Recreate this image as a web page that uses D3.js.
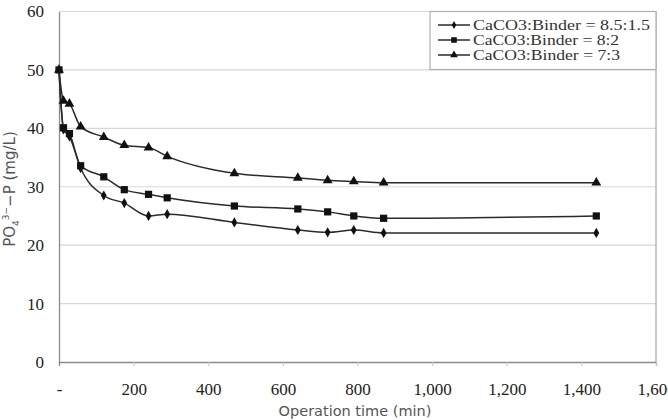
<!DOCTYPE html>
<html>
<head>
<meta charset="utf-8">
<script src="https://cdn.jsdelivr.net/npm/d3@7"></script>
<style>
    body { margin: 0; background: #fff; }
    svg { display: block; }
</style>
</head>
<body>
<script>
(function () {
    'use strict';

    var width = 668;
    var height = 420;
    var margin = { top: 11.5, right: 12, bottom: 58, left: 59 };
    var serif = '"Liberation Serif", "Times New Roman", serif';

    // operation time (min)
    var times = [0, 12, 28, 58, 120, 175, 240, 290, 470, 640, 720, 790, 870, 1440];

    var seriesNames = ['CaCO3:Binder = 8.5:1.5', 'CaCO3:Binder = 8:2', 'CaCO3:Binder = 7:3'];
    var seriesSymbols = ['diamond', 'square', 'triangle'];

    var values85 = [50, 39.8, 38.6, 33.2, 28.5, 27.2, 25.0, 25.3, 23.9, 22.6, 22.2, 22.6, 22.1, 22.1];
    var values82 = [50, 40.1, 39.1, 33.6, 31.7, 29.5, 28.7, 28.1, 26.7, 26.2, 25.7, 25.0, 24.6, 25.0];
    var values73 = [50, 44.7, 44.2, 40.3, 38.5, 37.1, 36.7, 35.2, 32.3, 31.5, 31.1, 30.9, 30.7, 30.7];
    var allValues = [values85, values82, values73];

    var xTicks = [0, 200, 400, 600, 800, 1000, 1200, 1400, 1600];
    var yTicks = [0, 10, 20, 30, 40, 50, 60];

    var plotW = width - margin.left - margin.right;
    var plotH = height - margin.top - margin.bottom;

    var svg = d3.select('body').append('svg')
        .attr('width', width)
        .attr('height', height);

    var x = d3.scaleLinear().domain([0, 1600]).range([0, plotW]);
    var y = d3.scaleLinear().domain([0, 60]).range([plotH, 0]);

    var g = svg.append('g')
        .attr('transform', 'translate(' + margin.left + ',' + margin.top + ')');

    // grid lines
    g.selectAll('line.grid')
        .data(yTicks.filter(function (d) { return d > 0; }))
      .enter().append('line')
        .attr('class', 'grid')
        .attr('x1', 0)
        .attr('x2', plotW)
        .attr('y1', function (d) { return y(d); })
        .attr('y2', function (d) { return y(d); })
        .style('stroke', '#d8d8d8')
        .style('stroke-width', 1.2);

    // right border
    g.append('line')
        .attr('x1', plotW).attr('x2', plotW)
        .attr('y1', 0).attr('y2', plotH)
        .style('stroke', '#a8a8a8')
        .style('stroke-width', 1.2);

    var fmt = function (d) { return d === 0 ? '-' : d3.format(',')(d); };

    var xAxis = g.append('g')
        .attr('transform', 'translate(0,' + plotH + ')')
        .call(d3.axisBottom(x).tickValues(xTicks).tickFormat(fmt).tickSize(4).tickPadding(17));

    var yAxis = g.append('g')
        .call(d3.axisLeft(y).tickValues(yTicks).tickSize(0).tickPadding(15));

    [xAxis, yAxis].forEach(function (ax) {
        ax.attr('font-family', serif).attr('font-size', 17);
        ax.select('.domain').style('stroke', '#8c8c8c').style('stroke-width', 1.3);
        ax.selectAll('.tick line').style('stroke', '#c8c8c8');
        ax.selectAll('.tick text')
            .style('font-family', serif)
            .style('font-size', '17px')
            .style('fill', '#222');
    });
    xAxis.selectAll('.tick').filter(function (d) { return d === 0; }).select('line').remove();

    var symbolType = {
        diamond: d3.symbolDiamond,
        square: d3.symbolSquare,
        triangle: d3.symbolTriangle
    };
    var symbolSize = { diamond: 30, square: 52, triangle: 42 };

    var line = d3.line()
        .x(function (d, i) { return x(times[i]); })
        .y(function (d) { return y(d); })
        .curve(d3.curveMonotoneX);

    allValues.forEach(function (vals, s) {
        var sym = seriesSymbols[s];
        g.append('path')
            .datum(vals)
            .attr('d', line)
            .style('fill', 'none')
            .style('stroke', '#2a2a2a')
            .style('stroke-width', 1.5);

        g.selectAll('path.pt' + s)
            .data(vals)
          .enter().append('path')
            .attr('class', 'pt' + s)
            .attr('transform', function (d, i) {
                return 'translate(' + x(times[i]) + ',' + y(d) + ')';
            })
            .attr('d', d3.symbol().type(symbolType[sym]).size(symbolSize[sym]))
            .style('fill', '#111');
    });

    // legend
    var lg = g.append('g')
        .attr('transform', 'translate(' + (plotW - 226) + ',0)');

    lg.append('rect')
        .attr('width', 226)
        .attr('height', 58)
        .style('fill', '#fff')
        .style('stroke', '#b0b0b0')
        .style('stroke-width', 1.2);

    var items = lg.selectAll('g.item')
        .data(seriesNames)
      .enter().append('g')
        .attr('class', 'item')
        .attr('transform', function (d, i) { return 'translate(0,' + (13.5 + i * 15) + ')'; });

    items.append('line')
        .attr('x1', 8).attr('x2', 40)
        .attr('y1', 0).attr('y2', 0)
        .style('stroke', '#2a2a2a')
        .style('stroke-width', 1.5);

    items.append('path')
        .attr('transform', 'translate(24,0)')
        .attr('d', function (d, i) {
            var sym = seriesSymbols[i];
            return d3.symbol().type(symbolType[sym]).size(symbolSize[sym] * 0.6)();
        })
        .style('fill', '#111');

    var legendLen = [177, 146, 147];
    items.append('text')
        .attr('x', 43)
        .attr('y', 0)
        .attr('dy', '0.35em')
        .attr('textLength', function (d, i) { return legendLen[i]; })
        .attr('lengthAdjust', 'spacingAndGlyphs')
        .style('font-family', serif)
        .style('font-size', '15px')
        .style('fill', '#333')
        .text(function (d) { return d; });

    // axis titles
    svg.append('text')
        .attr('x', 355)
        .attr('y', 416)
        .attr('text-anchor', 'middle')
        .style('font-family', '"DejaVu Sans", sans-serif')
        .style('font-size', '14.5px')
        .style('fill', '#555')
        .text('Operation time (min)');

    var yt = svg.append('text')
        .attr('transform', 'translate(15,189) rotate(-90)')
        .attr('text-anchor', 'middle')
        .style('font-family', '"DejaVu Sans", sans-serif')
        .style('font-size', '15px')
        .style('fill', '#555');
    yt.append('tspan').text('PO');
    yt.append('tspan').attr('dy', 4).style('font-size', '9px').text('4');
    yt.append('tspan').attr('dy', -10).style('font-size', '9px').text('3\u2212');
    yt.append('tspan').attr('dy', 6).text('\u2212P (mg/L)');
})();
</script>
</body>
</html>
